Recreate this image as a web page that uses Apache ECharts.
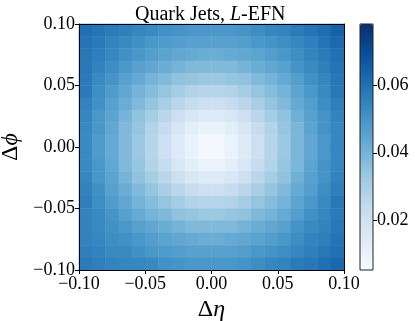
<!DOCTYPE html>
<html>
<head>
<meta charset="utf-8">
<script src="https://cdn.jsdelivr.net/npm/echarts@6/dist/echarts.min.js"></script>
<style>
  html, body { margin: 0; padding: 0; background: #fff; }
  #chart { width: 415px; height: 321px; }
</style>
</head>
<body>
<div id="chart"></div>
<script>
// cell centres (0.01 wide cells over [-0.1, 0.1])
var etaCells = ['-0.095','-0.085','-0.075','-0.065','-0.055','-0.045','-0.035','-0.025','-0.015','-0.005',
                '0.005','0.015','0.025','0.035','0.045','0.055','0.065','0.075','0.085','0.095'];
var phiCells = etaCells.slice(); // bottom -> top

// filter values, top row (dphi = 0.095) first, left -> right in deta
var filterRows = [
  [.060,.059,.057,.056,.054,.053,.051,.050,.049,.049,.049,.049,.050,.052,.054,.055,.057,.059,.061,.064],
  [.059,.057,.055,.053,.051,.049,.048,.047,.046,.046,.046,.046,.047,.049,.050,.052,.054,.056,.059,.062],
  [.058,.056,.054,.051,.049,.047,.045,.044,.043,.042,.042,.043,.044,.045,.047,.049,.052,.055,.057,.060],
  [.058,.055,.052,.049,.046,.044,.042,.040,.038,.038,.038,.038,.040,.042,.044,.046,.050,.053,.056,.059],
  [.057,.053,.050,.046,.043,.040,.038,.035,.034,.033,.033,.034,.035,.038,.040,.043,.047,.051,.054,.058],
  [.057,.052,.048,.044,.040,.037,.034,.031,.028,.027,.027,.028,.031,.034,.037,.040,.045,.049,.053,.058],
  [.055,.051,.046,.042,.038,.034,.030,.026,.023,.021,.021,.023,.026,.030,.034,.038,.043,.047,.052,.056],
  [.054,.049,.045,.040,.035,.031,.026,.021,.017,.015,.015,.017,.021,.026,.031,.035,.041,.046,.050,.055],
  [.053,.049,.044,.038,.034,.028,.023,.017,.013,.010,.010,.013,.017,.023,.028,.034,.039,.045,.050,.054],
  [.053,.048,.043,.038,.033,.027,.021,.015,.010,.007,.007,.010,.015,.021,.027,.033,.039,.044,.049,.054],
  [.053,.048,.043,.038,.033,.027,.021,.015,.010,.007,.007,.010,.015,.021,.027,.033,.039,.044,.049,.054],
  [.053,.049,.044,.038,.034,.028,.023,.017,.013,.010,.010,.013,.017,.023,.028,.034,.039,.045,.050,.054],
  [.054,.049,.045,.040,.035,.031,.026,.021,.017,.015,.015,.017,.021,.026,.031,.035,.041,.046,.050,.055],
  [.055,.051,.046,.042,.038,.034,.030,.026,.023,.021,.021,.023,.026,.030,.034,.038,.043,.047,.052,.056],
  [.056,.052,.048,.044,.040,.037,.034,.031,.028,.027,.027,.028,.031,.034,.037,.040,.045,.049,.053,.058],
  [.055,.053,.050,.046,.043,.040,.038,.035,.034,.033,.033,.034,.035,.038,.040,.043,.047,.051,.054,.057],
  [.055,.053,.051,.049,.046,.044,.042,.040,.038,.038,.038,.038,.040,.042,.044,.046,.050,.053,.055,.058],
  [.055,.054,.052,.051,.049,.047,.045,.044,.043,.042,.042,.043,.044,.045,.047,.049,.052,.055,.056,.059],
  [.056,.055,.053,.053,.051,.049,.048,.047,.046,.046,.046,.046,.047,.049,.050,.052,.054,.056,.058,.060],
  [.057,.056,.055,.054,.054,.053,.051,.050,.049,.049,.049,.049,.050,.052,.054,.055,.057,.058,.060,.062]
];

var cbarTicks = [0.02, 0.04, 0.06];
var cbarMin = 0.0054, cbarMax = 0.078;
var blues = ['#f7fbff','#deebf7','#c6dbef','#9ecae1','#6baed6','#4292c6','#2171b5','#08519c','#08306b'];

var heatData = [];
filterRows.forEach(function (row, r) {
  row.forEach(function (v, c) {
    heatData.push([c, filterRows.length - 1 - r, v]);
  });
});

function fmt(v) {
  var s = Math.abs(v).toFixed(2);
  return (v < -1e-9 ? '\u2212' : '') + s;
}

var font = '"Liberation Serif", "DejaVu Serif", serif';
var lab = { color: '#000', fontFamily: font, fontSize: 18 };
var nameRich = {
  a: { fontFamily: font, fontSize: 24, color: '#000' },
  b: { fontFamily: font, fontSize: 24, color: '#000', fontStyle: 'italic' }
};

var chart = echarts.init(document.getElementById('chart'), null, { renderer: 'canvas' });
chart.setOption({
  animation: false,
  backgroundColor: '#fff',
  title: {
    text: '{n|Quark Jets, }{i|L}{n|-EFN}',
    left: 130, top: 0,
    textStyle: {
      fontWeight: 'normal',
      rich: {
        n: { fontFamily: font, fontSize: 20, color: '#000', fontWeight: 'normal' },
        i: { fontFamily: font, fontSize: 20, color: '#000', fontStyle: 'italic', fontWeight: 'normal' }
      }
    }
  },
  grid: [
    { left: 79, top: 24, width: 265, height: 246, outerBoundsMode: 'none', containLabel: false },
    { left: 360, top: 24, width: 13, height: 246, outerBoundsMode: 'none', containLabel: false }
  ],
  xAxis: [
    { type: 'category', gridIndex: 0, data: etaCells, position: 'top', z: 10,
      axisLine: { onZero: false, lineStyle: { color: '#000', width: 1 } },
      axisTick: { show: false }, axisLabel: { show: false }, splitLine: { show: false } },
    { type: 'value', gridIndex: 0, min: -0.1, max: 0.1, interval: 0.05, position: 'bottom', z: 10,
      name: '{a|\u0394}{b|\u03b7}', nameLocation: 'middle', nameGap: 27,
      nameTextStyle: { rich: nameRich },
      axisLine: { onZero: false, lineStyle: { color: '#000', width: 1 } },
      axisTick: { show: true, length: 4, lineStyle: { color: '#000' } },
      axisLabel: Object.assign({ margin: 5, formatter: fmt }, lab),
      splitLine: { show: false } },
    { type: 'category', gridIndex: 1, data: ['c'], show: false }
  ],
  yAxis: [
    { type: 'category', gridIndex: 0, data: phiCells, position: 'right', z: 10,
      axisLine: { onZero: false, lineStyle: { color: '#000', width: 1 } },
      axisTick: { show: false }, axisLabel: { show: false }, splitLine: { show: false } },
    { type: 'value', gridIndex: 0, min: -0.1, max: 0.1, interval: 0.05, position: 'left', z: 10,
      name: '{a|\u0394}{b|\u03d5}', nameLocation: 'middle', nameGap: 52, nameRotate: 90,
      nameTextStyle: { rich: nameRich },
      axisLine: { onZero: false, lineStyle: { color: '#000', width: 1 } },
      axisTick: { show: true, length: 4, lineStyle: { color: '#000' } },
      axisLabel: Object.assign({ margin: 4, formatter: fmt }, lab),
      splitLine: { show: false } },
    { type: 'value', gridIndex: 1, min: cbarMin, max: cbarMax, position: 'right', z: 10,
      axisLine: { show: false },
      axisTick: { show: true, length: 4, customValues: cbarTicks, lineStyle: { color: '#000' } },
      axisLabel: Object.assign({ margin: 4, customValues: cbarTicks,
        formatter: function (v) { return v.toFixed(2); } }, lab),
      splitLine: { show: false } }
  ],
  visualMap: {
    type: 'continuous',
    min: cbarMin, max: cbarMax,
    calculable: false,
    orient: 'vertical',
    left: 360, top: 24, padding: 0,
    itemWidth: 13, itemHeight: 246,
    text: null,
    seriesIndex: 0,
    inRange: { color: blues }
  },
  graphic: [{
    type: 'rect', z: 100,
    shape: { x: 360, y: 24, width: 13, height: 246 },
    style: { fill: 'none', stroke: '#222', lineWidth: 1 }
  }],
  series: [{
    type: 'heatmap',
    xAxisIndex: 0, yAxisIndex: 0,
    data: heatData,
    itemStyle: { borderWidth: 0 },
    emphasis: { disabled: true }
  }]
});
</script>
</body>
</html>
